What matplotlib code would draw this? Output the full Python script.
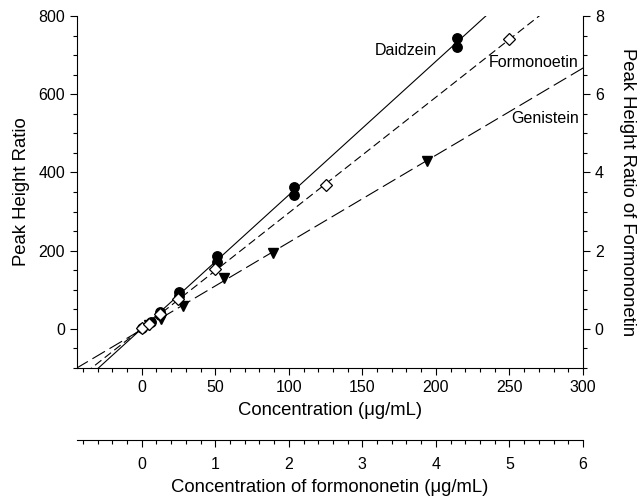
import numpy as np
import matplotlib
matplotlib.use('Agg')
import matplotlib.pyplot as plt
from matplotlib.ticker import MultipleLocator

plt.rcParams['font.family'] = ['Liberation Sans', 'DejaVu Sans']
plt.rcParams['lines.scale_dashes'] = False

# Daidzein (main axes: concentration ug/mL vs peak height ratio)
daidzein_x = [0, 6, 12.5, 12.5, 25.5, 25.5, 51, 51, 103.5, 103.5, 214, 214]
daidzein_y = [2, 18, 36, 42, 85, 95, 172, 187, 342, 364, 720, 743]

# Genistein (main axes)
genistein_x = [5, 13, 28, 56, 89, 194]
genistein_y = [10, 25, 58, 130, 195, 430]

# Formononetin (secondary axes: ug/mL vs peak height ratio of formononetin)
formo_x = [0, 0.1, 0.25, 0.5, 1.0, 2.5, 5.0]
formo_y = [0.02, 0.12, 0.38, 0.76, 1.52, 3.68, 7.41]

labels = ['Daidzein', 'Formonoetin', 'Genistein']

fig = plt.figure(figsize=(6.41, 4.98), dpi=100)
rect = [77 / 641, 1 - 368 / 498, 506 / 641, 352 / 498]
ax = fig.add_axes(rect)
axf = fig.add_axes(rect, label='formononetin')
axf.patch.set_visible(False)

ax.set_xlim(-44, 300)
ax.set_ylim(-100, 800)
axf.set_xlim(-44 / 50, 6)
axf.set_ylim(-1, 8)

lw = 0.8
# regression lines
xx = np.array([-80, 330])
m, b = np.polyfit(daidzein_x, daidzein_y, 1)
ax.plot(xx, m * xx + b, color='black', lw=lw, zorder=2)
m, b = np.polyfit(genistein_x, genistein_y, 1)
ax.plot(xx, m * xx + b, color='black', lw=lw, dashes=(10.5, 3.8), zorder=2)
xf = np.array([-2, 7])
m, b = np.polyfit(formo_x, formo_y, 1)
axf.plot(xf, m * xf + b, color='black', lw=lw, dashes=(5.8, 3.0), zorder=2)

# markers
ax.plot(daidzein_x, daidzein_y, 'o', color='black', ms=6.8, zorder=3, ls='none')
ax.plot(genistein_x, genistein_y, 'v', color='black', ms=7, zorder=3, ls='none')
axf.plot(formo_x, formo_y, 'D', mfc='white', mec='black', mew=0.9, ms=5.8, zorder=4, ls='none')

# annotations
fs = 11.5
lfs = 13.3
ax.text(200.6, 713, labels[0], ha='right', va='center', fontsize=fs)
ax.text(297, 681, labels[1], ha='right', va='center', fontsize=fs)
ax.text(297, 539, labels[2], ha='right', va='center', fontsize=fs)

# main axes styling
ax.spines['top'].set_visible(False)
ax.spines['right'].set_visible(False)
ax.xaxis.set_major_locator(MultipleLocator(50))
ax.xaxis.set_minor_locator(MultipleLocator(10))
ax.yaxis.set_major_locator(MultipleLocator(200))
ax.yaxis.set_minor_locator(MultipleLocator(50))
ax.tick_params(which='major', direction='out', length=5, width=0.8, labelsize=fs)
ax.tick_params(which='minor', direction='out', length=3, width=0.8)
ax.set_xlabel('Concentration (μg/mL)', fontsize=lfs, labelpad=5)
ax.set_ylabel('Peak Height Ratio', fontsize=lfs, labelpad=6)

# formononetin axes styling
axf.spines['top'].set_visible(False)
axf.spines['left'].set_visible(False)
axf.spines['bottom'].set_position(('outward', 51.8))
axf.yaxis.tick_right()
axf.yaxis.set_label_position('right')
axf.xaxis.tick_bottom()
axf.xaxis.set_major_locator(MultipleLocator(1))
axf.xaxis.set_minor_locator(MultipleLocator(0.2))
axf.yaxis.set_major_locator(MultipleLocator(2))
axf.yaxis.set_minor_locator(MultipleLocator(0.5))
axf.tick_params(which='major', direction='out', length=5, width=0.8, labelsize=fs)
axf.tick_params(which='minor', direction='out', length=3, width=0.8)
axf.tick_params(axis='x', which='major', pad=7)
axf.set_xlabel('Concentration of formononetin (μg/mL)', fontsize=lfs, labelpad=5.5)
axf.set_ylabel('Peak Height Ratio of Formononetin', fontsize=lfs, rotation=270, va='bottom', labelpad=11)

for a in (ax, axf):
    for s in a.spines.values():
        s.set_linewidth(0.8)

fig.savefig('out.png', dpi=100)
